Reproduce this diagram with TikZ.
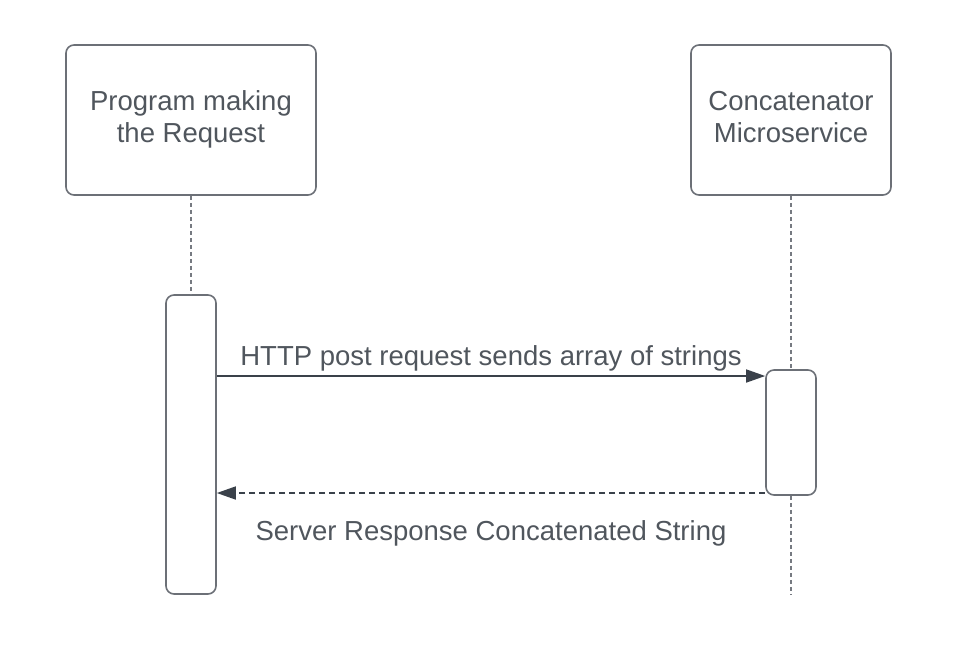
\documentclass[tikz,border=0pt]{standalone}
\usepackage{fontspec}
\setmainfont{Liberation Sans}
\usetikzlibrary{arrows.meta}
\definecolor{boxline}{HTML}{6C7077}
\definecolor{labeltext}{HTML}{50565D}
\definecolor{arrowdark}{HTML}{3A414A}
\definecolor{lifegray}{HTML}{767A81}

\begin{document}
\begin{tikzpicture}[x=1pt, y=-1pt,
    font=\fontsize{27.5}{32}\selectfont, text=labeltext,
    actor/.style={draw=boxline, line width=1.6pt, rounded corners=8pt, fill=white,
      minimum width=250pt, minimum height=150pt, align=center, inner sep=0pt},
    bar/.style={draw=boxline, line width=1.6pt, rounded corners=8pt, fill=white,
      minimum width=50pt, inner sep=0pt},
    lifeline/.style={draw=lifegray, line width=2pt, dash pattern=on 4pt off 3pt},
    msg/.style={draw=arrowdark, line width=1.5pt, -{Triangle[length=19pt,width=13pt]}},
    reply/.style={msg, dash pattern=on 6pt off 4pt}]
      \useasboundingbox (0, 0) rectangle (974, 665);
      \node[actor] (prog) at (191, 120) {\strut Program making\\the Request\strut};
      \node[actor, minimum width=200pt] (svc) at (791, 120) {\strut Concatenator\\Microservice\strut};
      \node[bar, minimum height=299pt] (progbar) at (191, 444.5) {};
      \node[bar, minimum height=125pt] (svcbar) at (791, 432.5) {};
      \coordinate (svcend) at (791, 594);
      \draw[lifeline] (prog.south) -- (progbar.north);
      \draw[lifeline] (svc.south) -- (svcbar.north);
      \draw[lifeline] (svcbar.south) -- (svcend);
      \draw[msg] (progbar.east |- 0, 376) to node[midway, above, yshift=1pt] {HTTP post request sends array of strings} (svcbar.west |- 0, 376);
      \draw[reply] (svcbar.west |- 0, 493) to node[midway, below, yshift=-23pt] {Server Response Concatenated String} (progbar.east |- 0, 493);
    \end{tikzpicture}
\end{document}
